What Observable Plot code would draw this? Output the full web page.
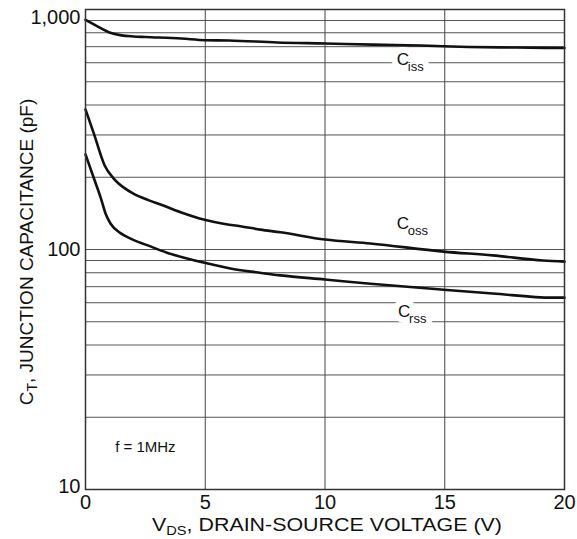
<!DOCTYPE html>
<html>
<head>
<meta charset="utf-8">
<script src="https://cdn.jsdelivr.net/npm/d3@7"></script>
<script src="https://cdn.jsdelivr.net/npm/@observablehq/plot@0.6"></script>
<style>
  html, body { margin: 0; padding: 0; background: #fff; }
  svg { display: block; }
</style>
</head>
<body>
<div id="chart"></div>
<script>
// ---- Data ----
const cissV = [0, 0.5, 1, 1.5, 2, 2.5, 4, 5, 6, 8, 10, 12, 14, 16, 18, 20];
const cissC = [905, 850, 802, 780, 772, 768, 757, 745, 743, 729, 722, 714, 708, 698, 694, 691];

const cossV = [0, 0.35, 0.8, 1.17, 1.6, 2.0, 2.6, 3.13, 3.97, 4.97, 5.76, 6.47, 7.3, 8.14, 10, 11.9, 14.95, 17, 19.1, 20];
const cossC = [383, 304, 224, 198, 181, 171, 161, 154, 143, 133, 128, 125, 121, 118, 110, 106, 98, 94.5, 90, 89];

const crssV = [0, 0.35, 0.63, 0.84, 1.05, 1.46, 1.88, 2.6, 3.4, 4.2, 4.97, 6.05, 7.2, 8.14, 10, 11.9, 14.95, 17, 19.5, 20];
const crssC = [249, 198, 165, 141, 128, 117, 111, 104, 97, 92, 88, 83.3, 80.2, 78, 75, 72, 68, 65.6, 63, 63];

const xTicks = [0, 5, 10, 15, 20];
const yTickTop = [1000];
const yTickMid = [100];
const yTickBottom = [10];
const gridX = [5, 10, 15];
const gridY = [20, 30, 40, 50, 60, 70, 80, 90, 100, 200, 300, 400, 500, 600, 700, 800, 900];

const labelMain = ["C", "C", "C"];
const labelSub = ["iss", "oss", "rss"];
const labelV = [13.0, 13.0, 13.05];
const labelC = [616, 128, 55.2];

const noteText = ["f = 1MHz"];
const noteV = [2.5];
const noteC = [14.96];

// ---- Build tables for the library ----
const series = [
  ...cissV.map((v, i) => ({s: "Ciss", v, c: cissC[i]})),
  ...cossV.map((v, i) => ({s: "Coss", v, c: cossC[i]})),
  ...crssV.map((v, i) => ({s: "Crss", v, c: crssC[i]}))
];
const labels = labelMain.map((m, i) => ({m, sub: labelSub[i], v: labelV[i], c: labelC[i]}));
const notes = noteText.map((t, i) => ({t, v: noteV[i], c: noteC[i]}));

const FONT = "'Liberation Sans', Arial, Helvetica, sans-serif";

const subOpts = {x: "v", y: "c", text: "sub", textAnchor: "start", lineAnchor: "middle", fontSize: 13, dx: 11, dy: 7};
const mainOpts = {x: "v", y: "c", text: "m", textAnchor: "start", lineAnchor: "middle", fontSize: 17};
const yAxisOpts = {tickSize: 0, tickPadding: 5, label: null, tickFormat: d3.format(",")};

const plot = Plot.plot({
  width: 577,
  height: 539,
  marginLeft: 85,
  marginRight: 13,
  marginTop: 9,
  marginBottom: 50,
  style: {fontFamily: FONT, fontSize: "20px", color: "#111", background: "#fff"},
  x: {domain: [0, 20]},
  y: {type: "log", domain: [10, 1000]},
  marks: [
    Plot.ruleY(gridY, {stroke: "#555", strokeWidth: 1}),
    Plot.ruleX(gridX, {stroke: "#444", strokeWidth: 1}),
    // label halos (break gridlines)
    Plot.text(labels, {...mainOpts, fill: "white", stroke: "white", strokeWidth: 12}),
    Plot.text(labels, {...subOpts, fill: "white", stroke: "white", strokeWidth: 12}),
    Plot.line(series, {x: "v", y: "c", z: "s", stroke: "#111", strokeWidth: 2.6, curve: "monotone-x"}),
    Plot.text(labels, {...mainOpts, fill: "#111"}),
    Plot.text(labels, {...subOpts, fill: "#111"}),
    Plot.text(notes, {x: "v", y: "c", text: "t", fontSize: 15, fill: "#111"}),
    Plot.frame({stroke: "#333", strokeWidth: 1.5}),
    Plot.axisX({ticks: xTicks, tickSize: 0, tickPadding: 5, label: null, tickFormat: d3.format("d")}),
    Plot.axisY({...yAxisOpts, ticks: yTickTop, dy: 8}),
    Plot.axisY({...yAxisOpts, ticks: yTickMid}),
    Plot.axisY({...yAxisOpts, ticks: yTickBottom, dy: -3})
  ]
});

document.getElementById("chart").appendChild(plot);

// ---- Axis titles with subscripts ----
const svg = d3.select(plot);
const xt = svg.append("text")
  .attr("x", 327).attr("y", 531)
  .attr("text-anchor", "middle")
  .attr("textLength", 350)
  .attr("lengthAdjust", "spacingAndGlyphs")
  .attr("fill", "#111")
  .style("font-family", FONT).style("font-size", "19px");
xt.append("tspan").text("V");
xt.append("tspan").attr("dy", 4).style("font-size", "13px").text("DS");
xt.append("tspan").attr("dy", -4).text(", DRAIN-SOURCE VOLTAGE (V)");

const yt = svg.append("text")
  .attr("transform", "translate(33,252) rotate(-90)")
  .attr("text-anchor", "middle")
  .attr("fill", "#111")
  .style("font-family", FONT).style("font-size", "19px");
yt.append("tspan").text("C");
yt.append("tspan").attr("dy", 4).style("font-size", "14px").text("T");
yt.append("tspan").attr("dy", -4).text(", JUNCTION CAPACITANCE (pF)");
</script>
</body>
</html>
